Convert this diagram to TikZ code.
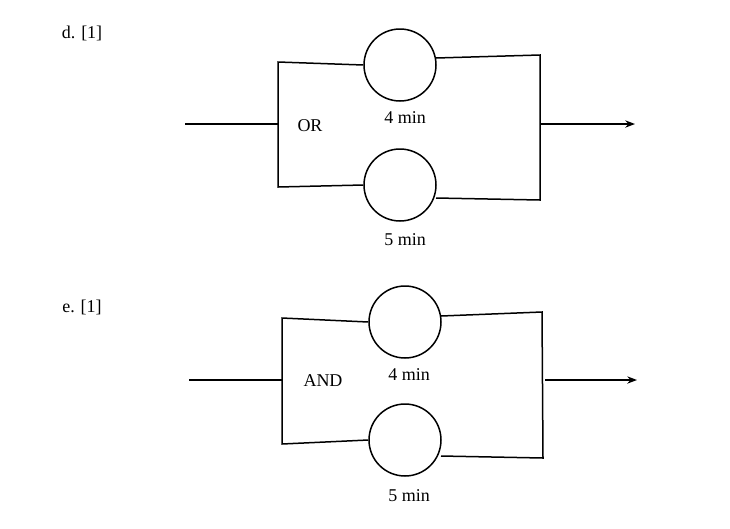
\documentclass[tikz,border=0pt]{standalone}
\usepackage{fontspec}
\setmainfont{Liberation Serif}
\usetikzlibrary{arrows.meta}
\tikzset{
  box/.style={circle, draw, line width=1.5pt, minimum size=72pt, inner sep=0pt},
  lbl/.style={font=\fontsize{18}{18}\selectfont},
  wire/.style={line width=1.5pt}
}
\begin{document}
\begin{tikzpicture}[x=1pt, y=-1pt, >={Stealth[scale=1]}]
  \useasboundingbox (0,0) rectangle (730,528);
  % part d
  \node[lbl] at (82,33) {d. [1]};
  \node[box] (d1) at (400,65) {};
  \node[box] (d2) at (400,185) {};
  \node[lbl] at (405,118) {4 min};
  \node[lbl] at (405,240) {5 min};
  \node[lbl] at (310,126) {OR};
  \coordinate (din) at (185,124);
  \coordinate (dj) at (278,124);
  \coordinate (dout) at (540,124);
  \draw[wire] (din) -- (dj);
  \draw[wire] (d1.west) -- (278,62) -- (278,187) -- (d2.west);
  \draw[wire] (436,58) -- (540,55) -- (540,200) -- (436,198);
  \draw[wire,->] (dout) -- (635,124);
  % part e
  \node[lbl] at (82,307) {e. [1]};
  \node[box] (e1) at (405,322) {};
  \node[box] (e2) at (405,440) {};
  \node[lbl] at (409,375) {4 min};
  \node[lbl] at (409,496) {5 min};
  \node[lbl] at (323,381) {AND};
  \coordinate (ein) at (189,380);
  \coordinate (ej) at (282,380);
  \coordinate (eout) at (545,380);
  \draw[wire] (ein) -- (ej);
  \draw[wire] (e1.west) -- (282,318) -- (282,444) -- (e2.west);
  \draw[wire] (441,316) -- (542,312) -- (543,458) -- (441,456);
  \draw[wire,->] (eout) -- (637,380);
\end{tikzpicture}
\end{document}
